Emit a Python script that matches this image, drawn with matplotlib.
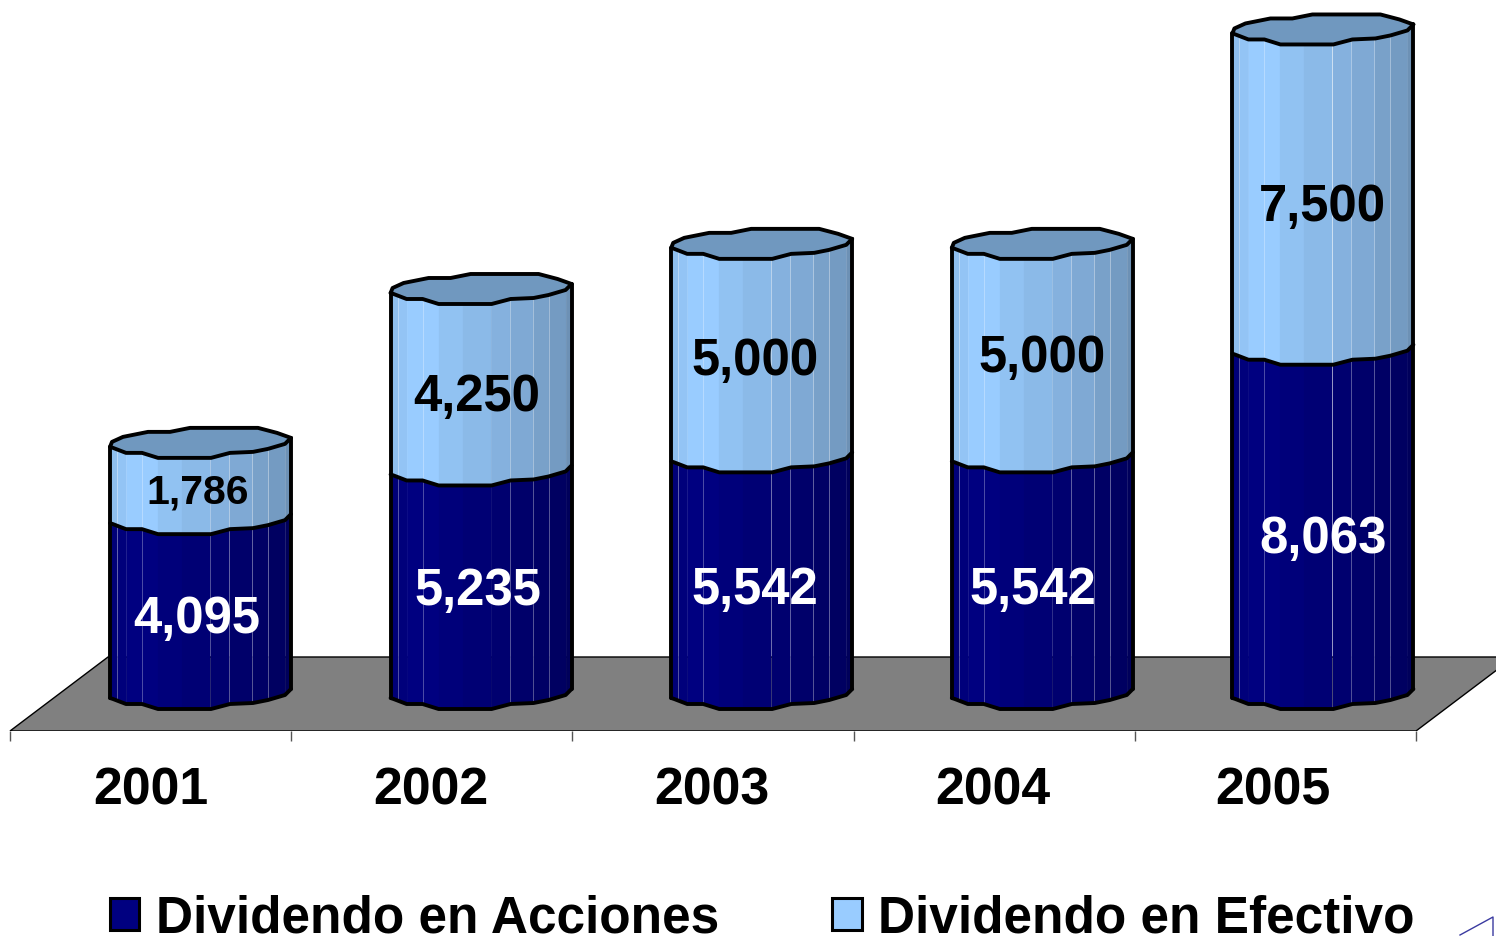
import numpy as np
import matplotlib
matplotlib.use("Agg")
import matplotlib.pyplot as plt
from matplotlib.lines import Line2D
from matplotlib.patches import Patch

plt.rcParams['font.family'] = ['Liberation Sans', 'DejaVu Sans']
plt.rcParams['font.weight'] = 'bold'

# datos
years = ['2001', '2002', '2003', '2004', '2005']
acciones = [4095, 5235, 5542, 5542, 8063]
efectivo = [1786, 4250, 5000, 5000, 7500]
serie_acciones = 'Dividendo en Acciones'
serie_efectivo = 'Dividendo en Efectivo'

W, H = 1496, 937
PX_X = 281.2      # pixeles por categoria
PX_Y = 0.0427     # pixeles por unidad
CAT0 = 150.6      # pixel de la categoria 0
Y0 = 699          # pixel del valor 0
FLOOR_Y = 732     # borde frontal del piso
STEP = 280.6 / PX_X  # las barras y rotulos van un poco mas juntos que los ticks

C_ACC = np.array([0x00, 0x00, 0x80]) / 255
C_EFE = np.array([0x99, 0xCC, 0xFF]) / 255
C_TOP = '#7098BF'

# forma del cilindro, en pixeles desde la esquina izquierda
front_dx = np.array([0, 3, 16, 32, 48, 101, 120, 143, 158, 175, 181])
front_dy = np.array([0, 1, 6, 6, 11, 11, 6, 5, 2, -3, -9])
back_dx = np.array([0, 2, 13, 38, 60, 80, 148, 167, 181])
back_dy = np.array([0, -5, -10, -15, -15, -19, -19, -14, -9])
band_edges = [0, 7, 16, 48, 72, 100, 119, 142, 158, 175, 181]
band_light = [.93, .96, 1, .95, .91, .87, .83, .79, .76, .71]
hairlines = [7, 32, 119, 142, 158]
BAR_LEFT = 49.9 - 90.5  # pixeles desde el centro de categoria
BAR_W = 181


def px_x(p):
    return np.asarray(p) / PX_X


def px_y(p):
    return np.asarray(p) / PX_Y


def front(dx):
    return np.interp(dx, front_dx, front_dy)


fig = plt.figure(figsize=(W / 100, H / 100), dpi=100)
ax = fig.add_axes([0, (H - FLOOR_Y) / H, 1, FLOOR_Y / H])
ax.patch.set_alpha(0)
ax.set_xlim(-CAT0 / PX_X, (W - CAT0) / PX_X)
ax.set_ylim(-(FLOOR_Y - Y0) / PX_Y, Y0 / PX_Y)

for s in ax.spines.values():
    s.set_visible(False)

# piso
y_front = ax.get_ylim()[0]
y_back = px_y(Y0 - 658)
depth = px_x(98)
ax.fill([-0.5, 4.5, 4.5 + depth, -0.5 + depth],
        [y_front, y_front, y_back, y_back],
        facecolor='#808080', edgecolor='black', lw=1.0, zorder=1, clip_on=True)


def segment(x_left, bottom, top, base_color, z):
    # franjas verticales que imitan el sombreado del cilindro
    for k in range(len(band_light)):
        a, b = band_edges[k], band_edges[k + 1]
        d = np.unique(np.r_[a, b, front_dx[(front_dx > a) & (front_dx < b)]])
        xs = x_left + px_x(d)
        ax.fill_between(xs, bottom - px_y(front(d)), top - px_y(front(d)),
                        color=base_color * band_light[k], lw=0.2, zorder=z)
    for d in hairlines:
        xs = x_left + px_x(d)
        off = px_y(front(d))
        ax.plot([xs, xs], [bottom - off, top - off], color='white', lw=0.7, alpha=0.3, zorder=z)


for i in range(len(years)):
    x_left = i * STEP + px_x(BAR_LEFT)
    a = acciones[i]
    t = a + efectivo[i]
    z = 3
    segment(x_left, 0, a, C_ACC, z)
    segment(x_left, a, t, C_EFE, z)

    fx = x_left + px_x(front_dx)
    fy = px_y(front_dy)
    bx = x_left + px_x(back_dx)
    by = px_y(back_dy)

    # tapa superior
    ax.fill(np.r_[fx, bx[::-1]], np.r_[t - fy, t - by[::-1]], facecolor=C_TOP, zorder=z + 1)
    line = dict(color='black', lw=2.8, solid_joinstyle='round', solid_capstyle='round', zorder=z + 2)
    ax.plot(fx, t - fy, **line)
    ax.plot(bx, t - by, **line)
    ax.plot(fx, a - fy, **line)
    ax.plot(fx, 0 - fy, **line)
    ax.plot([fx[0], fx[0]], [0, t], **line)
    ax.plot([fx[-1], fx[-1]], [0 - fy[-1], t - fy[-1]], **line)

# etiquetas de valores: corrimiento en pixeles desde el centro de cada tramo
acc_dx = [-3.5, -3, -6.5, -9.5, 0]
acc_dy = [-8, -4, -10, -10, -12.5]
efe_dx = [-2.5, -4, -6.5, 0, 0]
efe_dy = [-6, -13, -6, -3, -13]
for i in range(len(years)):
    xc = i * STEP + px_x(49.9)
    ax.annotate(f'{acciones[i]:,}', (xc, acciones[i] / 2),
                xytext=(acc_dx[i] * 0.72, acc_dy[i] * 0.72), textcoords='offset points',
                ha='center', va='center', color='white', fontsize=36.6, zorder=8)
    ax.annotate(f'{efectivo[i]:,}', (xc, acciones[i] + efectivo[i] / 2),
                xytext=(efe_dx[i] * 0.72, efe_dy[i] * 0.72), textcoords='offset points',
                ha='center', va='center', color='black',
                fontsize=29.5 if efectivo[i] < 2000 else 36.6, zorder=8)

# eje de categorias
ax.set_yticks([])
ax.set_xticks(np.arange(len(years) + 1) - 0.5, labels=[''] * (len(years) + 1))
ax.set_xticks(np.arange(len(years)) * STEP, labels=years, minor=True)
ax.tick_params(axis='x', which='major', length=7.5, width=1.0, color='#555555')
ax.tick_params(axis='x', which='minor', length=0, pad=24.5, labelsize=37.4)

# leyenda
handles = [Patch(facecolor=C_ACC, edgecolor='black', lw=2.2, label=serie_acciones),
           Patch(facecolor=C_EFE, edgecolor='black', lw=2.2, label=serie_efectivo)]
fig.legend(handles=handles, loc='lower left', bbox_to_anchor=(109.5 / W, -7 / H), ncols=2, frameon=False,
           fontsize=37, borderpad=0, borderaxespad=0, handlelength=0.58, handleheight=0.6,
           handletextpad=0.32, columnspacing=2.2)

# triangulo de la esquina
fig.add_artist(Line2D([1460 / W, 1493 / W, 1493 / W], [1 / H, 19 / H, 0],
                      color='#3A3AA0', lw=1.0))

fig.savefig('out.png', dpi=100)
